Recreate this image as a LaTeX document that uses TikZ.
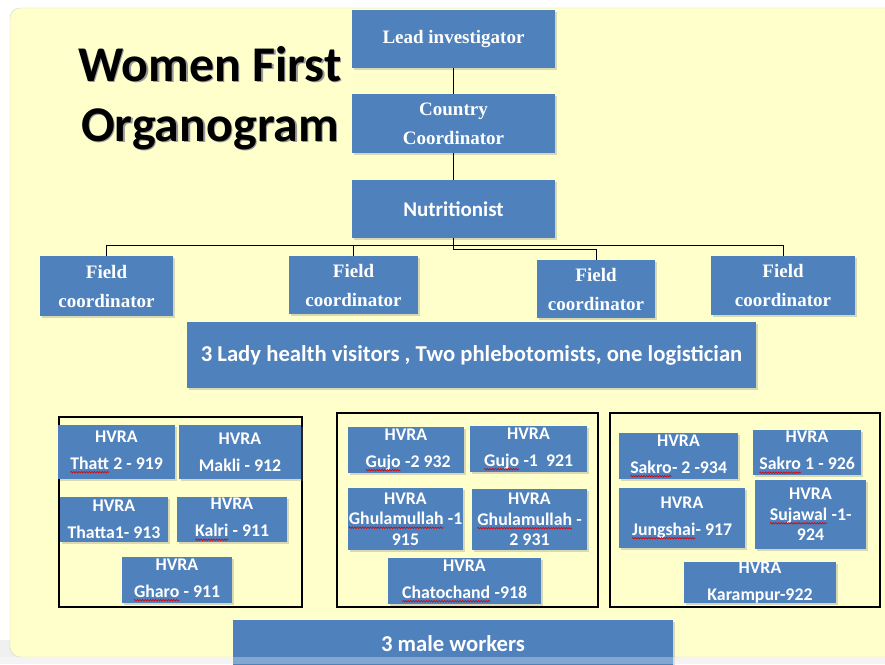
\documentclass[tikz,border=0pt]{standalone}
\usepackage{fontspec}
\setmainfont{Carlito}
\newfontfamily\tnr{Liberation Serif}
\usepackage{tikz}
\usetikzlibrary{shadows, decorations.pathmorphing}

\definecolor{boxblue}{HTML}{4F81BD}
\definecolor{bgyellow}{HTML}{FFFFCC}
% spell-check wave under a word
\newcommand{\spell}[1]{\tikz[baseline=(w.base)]{\node[inner sep=0pt, outer sep=0pt, minimum width=0pt, minimum height=0pt, text=white] (w) {#1};
    \draw[red!85!black, line width=0.6pt, decorate, decoration={snake, amplitude=0.8pt, segment length=2.6pt}] ([yshift=-3pt]w.base west) -- ([yshift=-3pt]w.base east);}}

\begin{document}
\begin{tikzpicture}[x=1pt, y=-1pt,
    blue/.style={rectangle, fill=boxblue, text=white, align=center, inner sep=0pt,
        drop shadow={shadow xshift=1.5pt, shadow yshift=-2pt, opacity=0.3}},
    serifbox/.style={blue, font=\tnr\bfseries\fontsize{19}{29}\selectfont},
    sansbox/.style={blue, font=\bfseries\fontsize{21}{24}\selectfont},
    hvra/.style={blue, font=\bfseries\fontsize{17.8}{27}\selectfont},
    hvratight/.style={hvra, font=\bfseries\fontsize{17.8}{20.5}\selectfont},
    group/.style={rectangle, draw=black, line width=1.3pt, inner sep=0pt},
    link/.style={draw=black, line width=0.9pt}]

    \useasboundingbox (0,0) rectangle (885,664);

    % Background slide
    \fill[gray!12] (0,640) rectangle (885,664);
    \filldraw[fill=bgyellow, draw=gray!35, rounded corners=10pt] (10,8) rectangle (900,657);

    % Title
    \node[font=\bfseries\fontsize{50}{60}\selectfont, text=black!40, align=center] at (211.5,99.5) (titleshadow) {Women First\\Organogram};
    \node[font=\bfseries\fontsize{50}{60}\selectfont, align=center] at (210,98) (title) {Women First\\Organogram};

    % Top of the chart
    \node[serifbox, minimum width=203pt, minimum height=58pt] at (453.5,39) (lead) {Lead investigator};
    \node[serifbox, minimum width=203pt, minimum height=59pt] at (453.5,123.5) (country) {Country\\Coordinator};
    \node[sansbox, minimum width=203pt, minimum height=58pt] at (453.5,209) (nutri) {Nutritionist};

    % Field coordinators
    \node[serifbox, minimum width=133pt, minimum height=60pt] at (106.5,286) (fc1) {Field\\coordinator};
    \node[serifbox, minimum width=129pt, minimum height=58pt] at (353.5,285) (fc2) {Field\\coordinator};
    \node[serifbox, minimum width=118pt, minimum height=58pt] at (596,289) (fc3) {Field\\coordinator};
    \node[serifbox, minimum width=144pt, minimum height=59pt] at (783,285.5) (fc4) {Field\\coordinator};

    \draw[link] (lead) -- (country);
    \draw[link] (country) -- (nutri);
    \draw[link] (nutri.south) -- ++(0,7) -| (fc1.north);
    \draw[link] (nutri.south) -- ++(0,7) -| (fc2.north);
    \draw[link] (nutri.south) -- ++(0,11) -| (fc3.north);
    \draw[link] (nutri.south) -- ++(0,7) -| (fc4.north);

    \node[blue, font=\bfseries\fontsize{22.7}{26}\selectfont, minimum width=569pt, minimum height=66pt] at (471.5,355) (lady) {3 Lady health visitors , Two phlebotomists, one logistician};

    % Three groups of HVRA
    \node[group, minimum width=243pt, minimum height=190pt] at (180.5,512) (grp1) {};
    \node[group, minimum width=261pt, minimum height=194pt] at (467.5,510) (grp2) {};
    \node[group, minimum width=270pt, minimum height=194pt] at (745,510) (grp3) {};

    % Group 1
    \node[hvra, minimum width=117pt, minimum height=54pt] at (116.5,452) (thatt2) {HVRA\\\spell{Thatt} 2 - 919};
    \node[hvra, minimum width=122pt, minimum height=54pt] at (240,452) (makli) {HVRA\\Makli - 912};
    \node[hvra, minimum width=108pt, minimum height=45pt] at (114,519.5) (thatta1) {HVRA\\Thatta1- 913};
    \node[hvra, minimum width=110pt, minimum height=45pt] at (232,519.5) (kalri) {HVRA\\\spell{Kalri} - 911};
    \node[hvra, minimum width=110pt, minimum height=46pt] at (177,580) (gharo) {HVRA\\\spell{Gharo} - 911};

    % Group 2
    \node[hvra, minimum width=116pt, minimum height=46pt] at (406,450) (gujo2) {HVRA\\\ \spell{Gujo} -2 932};
    \node[hvra, minimum width=117pt, minimum height=46pt] at (528.5,449) (gujo1) {HVRA\\\spell{Gujo} -1\ \ 921};
    \node[hvratight, minimum width=115pt, minimum height=62pt] at (405.5,519) (ghul1) {HVRA\\\spell{Ghulamullah} -1\\915};
    \node[hvratight, minimum width=115pt, minimum height=61pt] at (529.5,519.5) (ghul2) {HVRA\\\spell{Ghulamullah} -\\2 931};
    \node[hvra, minimum width=153pt, minimum height=46pt] at (464.5,581) (chato) {HVRA\\\spell{Chatochand} -918};

    % Group 3
    \node[hvra, minimum width=119pt, minimum height=46pt] at (678.5,456) (sakro2) {HVRA\\\spell{Sakro}- 2 -934};
    \node[hvra, minimum width=108pt, minimum height=45pt] at (807,452.5) (sakro1) {HVRA\\\spell{Sakro} 1 - 926};
    \node[hvra, minimum width=126pt, minimum height=60pt] at (682,518) (jung) {HVRA\\\spell{Jungshai}- 917};
    \node[hvratight, minimum width=111pt, minimum height=69pt] at (810.5,514.5) (sujawal) {HVRA\\\spell{Sujawal} -1-\\924};
    \node[hvra, minimum width=152pt, minimum height=41pt] at (760,582.5) (karam) {HVRA\\Karampur-922};

    \node[blue, font=\bfseries\fontsize{22.7}{26}\selectfont, minimum width=440pt, minimum height=48pt] at (453,644) (male) {3 male workers};

    % Slide edge over the last box
    \fill[white, opacity=0.3] (0,657) rectangle (885,664);
\end{tikzpicture}
\end{document}
